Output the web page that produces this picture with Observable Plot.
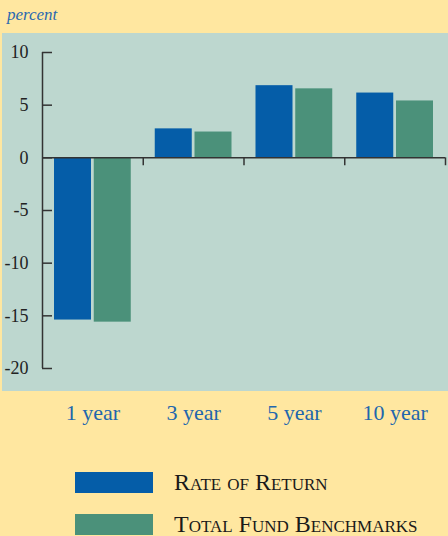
<!DOCTYPE html>
<html>
<head>
<meta charset="utf-8">
<script src="https://cdn.jsdelivr.net/npm/d3@7"></script>
<script src="https://cdn.jsdelivr.net/npm/@observablehq/plot@0.6"></script>
<style>
  html, body { margin: 0; padding: 0; background: #FFE7A0; }
  #wrap { position: relative; width: 448px; height: 536px; overflow: hidden; font-family: "Liberation Serif", serif; }
  #panel { position: absolute; left: 2px; top: 33px; width: 446px; height: 358px; background: #BDD7CF; }
  #unit { position: absolute; left: 7px; top: 5px; font-style: italic; font-size: 17px; color: #2A69B0; }
  #chart { position: absolute; left: 0; top: 0; }
  #legend { position: absolute; left: 75px; top: 472px; }
  .row { display: flex; align-items: center; height: 21px; margin-bottom: 21px; }
  .sw { width: 78px; height: 21px; margin-right: 21px; }
  .lab { font-size: 24px; font-variant: small-caps; color: #1a1a1a; line-height: 21px; }
</style>
</head>
<body>
<div id="wrap">
  <div id="panel"></div>
  <div id="unit">percent</div>
  <div id="chart"></div>
  <div id="legend"></div>
</div>
<script>
const categories = ["1 year", "3 year", "5 year", "10 year"];
const seriesNames = ["Rate of Return", "Total Fund Benchmarks"];
const rateOfReturn = [-15.4, 2.75, 6.85, 6.15];
const benchmarks = [-15.6, 2.45, 6.55, 5.4];
const yTicks = [-20, -15, -10, -5, 0, 5, 10];
const colors = ["#055DA8", "#4B917A"];

const rateData = categories.map((c, i) => ({cat: c, value: rateOfReturn[i]}));
const benchData = categories.map((c, i) => ({cat: c, value: benchmarks[i]}));

const W = 448, marginLeft = 42, marginRight = 3;
const step = (W - marginLeft - marginRight) / categories.length;
const barW = 37, outer = 12;

const chart = Plot.plot({
  width: W,
  height: 440,
  marginTop: 52,
  marginBottom: 72,
  marginLeft,
  marginRight,
  style: {background: "transparent", fontFamily: "Liberation Serif, serif", overflow: "visible"},
  x: {type: "band", domain: categories, padding: 0, round: false, label: null},
  y: {domain: [-20, 10], label: null},
  marks: [
    Plot.barY(rateData, {x: "cat", y: "value", fill: colors[0], insetLeft: outer, insetRight: step - outer - barW}),
    Plot.barY(benchData, {x: "cat", y: "value", fill: colors[1], insetLeft: step - outer - barW, insetRight: outer}),
    Plot.ruleY([0], {stroke: "#333", strokeWidth: 1.5}),
    Plot.ruleX(categories, {x: d => d, y1: 0, y2: -0.75, dx: step / 2, stroke: "#333", strokeWidth: 1.5}),
    Plot.ruleX([categories[0]], {x: d => d, y1: -20, y2: 10, dx: -step / 2, stroke: "#333", strokeWidth: 1.5}),
    Plot.tickY(yTicks, {x: () => categories[0], y: d => d, insetRight: step - 10, stroke: "#333", strokeWidth: 1.5}),
    Plot.axisY({ticks: yTicks, tickSize: 0, tickPadding: 14, tickFormat: d => String(d), fontSize: 18, fill: "#222"}),
    Plot.axisX({tickSize: 0, tickPadding: 36, fontSize: 22, fill: "#2166AD"})
  ]
});
document.getElementById("chart").appendChild(chart);

const legend = document.getElementById("legend");
seriesNames.forEach((name, i) => {
  const row = document.createElement("div");
  row.className = "row";
  const sw = document.createElement("div");
  sw.className = "sw";
  sw.style.background = colors[i];
  const lab = document.createElement("div");
  lab.className = "lab";
  lab.textContent = name;
  row.appendChild(sw);
  row.appendChild(lab);
  legend.appendChild(row);
});
</script>
</body>
</html>
